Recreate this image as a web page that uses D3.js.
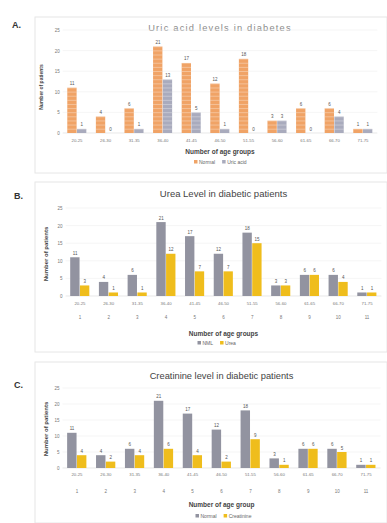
<!DOCTYPE html>
<html><head><meta charset="utf-8">
<script src="https://cdn.jsdelivr.net/npm/d3@7"></script>
<style>
html,body{margin:0;padding:0;background:#fff;}
svg{display:block;font-family:"Liberation Sans",Arial,sans-serif;}
</style></head>
<body>
<svg id="c" width="387" height="523"></svg>
<script>
// ---- data ----
const ageGroups = ["20-25","26-30","31-35","36-40","41-45","46-50","51-55","56-60","61-65","66-70","71-75"];
const groupNumbers = ["1","2","3","4","5","6","7","8","9","10","11"];
const yTicks = [0,5,10,15,20,25];
const uricNormal = [11,4,6,21,17,12,18,3,6,6,1];
const uricHigh   = [1,0,1,13,5,1,0,3,0,4,1];
const ureaNormal = [11,4,6,21,17,12,18,3,6,6,1];
const ureaHigh   = [3,1,1,12,7,7,15,3,6,4,1];
const creatNormal = [11,4,6,21,17,12,18,3,6,6,1];
const creatHigh   = [4,2,4,6,4,2,9,1,6,5,1];
const panelLetters = ["A.","B.","C."];
const titles = ["Uric acid levels in diabetes","Urea Level in diabetic patients","Creatinine level in diabetic patients"];
const xTitles = ["Number of age groups","Number of age groups","Number of age group"];
const yTitle = "Number of patients";
const legendNames = [["Normal","Uric acid"],["NML","Urea"],["Normal","Creatinine"]];

const svg = d3.select("#c");

const panels = [
  {box:[35,17,352,156], letter:[12,28], title:31, titleSize:9.3, titleColor:"#8a8a8a", spacing:1.2,
   x:[62.7,377.3], y0:133, y1:30, yT:[43,87], yTs:5, xl1:143, xl2:null, xt:151, lg:163,
   c1:"#f0a366", c2:"#a9abbd", stripes:true, n:uricNormal, h:uricHigh},
  {box:[35,182,352,170], letter:[14,199], title:197, titleSize:9.5, titleColor:"#444", spacing:0,
   x:[65.6,381.4], y0:296, y1:208, yT:[48,254], yTs:6, xl1:306, xl2:317, xt:333, lg:344,
   c1:"#9293a0", c2:"#efbd1c", stripes:false, n:ureaNormal, h:ureaHigh},
  {box:[35,362,352,161], letter:[14,388], title:379, titleSize:9.3, titleColor:"#444", spacing:0,
   x:[62.5,380.5], y0:468, y1:388, yT:[48,429], yTs:6, xl1:477, xl2:491, xt:504, lg:517,
   c1:"#9293a0", c2:"#efbd1c", stripes:false, n:creatNormal, h:creatHigh}
];

panels.forEach((p,i)=>{
  const g = svg.append("g");
  g.append("rect").attr("x",p.box[0]).attr("y",p.box[1]).attr("width",p.box[2]).attr("height",p.box[3])
    .attr("fill","#fff").attr("stroke","#e6e6e6").attr("stroke-width",1);
  g.append("text").attr("x",p.letter[0]).attr("y",p.letter[1]).text(panelLetters[i])
    .attr("font-size",9).attr("font-weight","bold").attr("fill","#333");
  g.append("text").attr("x",(p.x[0]+p.x[1])/2).attr("y",p.title).attr("text-anchor","middle")
    .attr("font-size",p.titleSize).attr("fill",p.titleColor).attr("letter-spacing",p.spacing).text(titles[i]);

  const x = d3.scaleBand().domain(ageGroups).range(p.x).paddingInner(0.32).paddingOuter(0.16);
  const xs = d3.scaleBand().domain(["n","h"]).range([0,x.bandwidth()]);
  const y = d3.scaleLinear().domain([0,25]).range([p.y0,p.y1]);

  // gridlines
  g.append("g").selectAll("line").data(yTicks).join("line")
    .attr("x1",p.x[0]).attr("x2",p.x[1]).attr("y1",d=>y(d)).attr("y2",d=>y(d))
    .attr("stroke",(d)=>d===0?"#d8d8d8":"#eeeeee").attr("stroke-width",0.6);
  // y axis labels
  const yAxis = d3.axisLeft(y).tickValues(yTicks).tickSize(0).tickPadding(3);
  const ya = g.append("g").attr("transform",`translate(${p.x[0]},0)`).call(yAxis);
  ya.select(".domain").remove();
  ya.selectAll("text").attr("font-size",4.5).attr("fill","#777");

  g.append("text").attr("transform",`translate(${p.yT[0]},${p.yT[1]}) rotate(-90)`)
    .attr("text-anchor","middle").attr("font-size",p.yTs).attr("font-weight","bold").attr("fill","#444").text(yTitle);

  // bars
  const rows = ageGroups.map((a,j)=>({a, n:p.n[j], h:p.h[j]}));
  const grp = g.append("g").selectAll("g").data(rows).join("g").attr("transform",d=>`translate(${x(d.a)},0)`);
  ["n","h"].forEach(k=>{
    const col = k==="n"?p.c1:p.c2;
    grp.append("rect").attr("x",xs(k)).attr("width",xs.bandwidth()-0.4)
      .attr("y",d=>y(d[k])).attr("height",d=>y(0)-y(d[k])).attr("fill",col);
    if(p.stripes){
      grp.each(function(d){
        d3.select(this).selectAll(null).data(d3.range(1,d[k]+1)).join("line")
          .attr("x1",xs(k)).attr("x2",xs(k)+xs.bandwidth()-0.4)
          .attr("y1",v=>y(v)+0.3).attr("y2",v=>y(v)+0.3)
          .attr("stroke","#fff").attr("stroke-opacity",0.55).attr("stroke-width",0.6);
      });
    }
    grp.append("text").attr("x",xs(k)+xs.bandwidth()/2).attr("y",d=>y(d[k])-2.5)
      .attr("text-anchor","middle").attr("font-size",4.5).attr("fill","#555").text(d=>d[k]);
  });

  // x labels
  const xAxis = d3.axisBottom(x).tickSize(0).tickPadding(0);
  const xa = g.append("g").attr("transform",`translate(0,${p.xl1-4})`).call(xAxis);
  xa.select(".domain").remove();
  xa.selectAll("text").attr("font-size",4.3).attr("fill","#777").attr("dy","0.7em");
  if(p.xl2){
    g.append("g").selectAll("text").data(groupNumbers).join("text")
      .attr("x",(d,j)=>x(ageGroups[j])+x.bandwidth()/2).attr("y",p.xl2+1.5)
      .attr("text-anchor","middle").attr("font-size",4.5).attr("fill","#777").text(d=>d);
  }
  g.append("text").attr("x",(p.x[0]+p.x[1])/2).attr("y",p.xt+2.5).attr("text-anchor","middle")
    .attr("font-size",6.5).attr("font-weight","bold").attr("fill","#444").text(xTitles[i]);

  // legend
  const cx = (p.x[0]+p.x[1])/2;
  const lg = g.append("g").attr("transform",`translate(${cx-26},${p.lg})`);
  const items = [[legendNames[i][0],p.c1],[legendNames[i][1],p.c2]];
  let ox = 0;
  items.forEach(([name,col])=>{
    lg.append("rect").attr("x",ox).attr("y",-3).attr("width",3.5).attr("height",3.5).attr("fill",col);
    const t = lg.append("text").attr("x",ox+5).attr("y",1).attr("font-size",5).attr("fill","#666").text(name);
    ox += 5 + t.node().getComputedTextLength() + 7;
  });
});
</script>
</body></html>
